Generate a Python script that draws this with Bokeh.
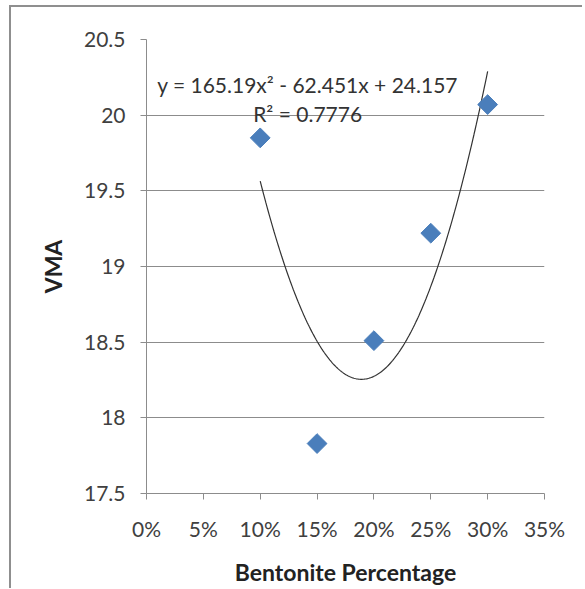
from bokeh.plotting import figure
from bokeh.layouts import column
from bokeh.models import Range1d, FixedTicker, NumeralTickFormatter, Label
from bokeh.embed import file_html
from bokeh.resources import INLINE
import numpy as np
import math

# data
bentonite = [0.10, 0.15, 0.20, 0.25, 0.30]
vma = [19.85, 17.83, 18.51, 19.22, 20.07]
trend_coeffs = [165.19, -62.451, 24.157]
x_ticks = [0, 0.05, 0.10, 0.15, 0.20, 0.25, 0.30, 0.35]
y_ticks = [17.5, 18, 18.5, 19, 19.5, 20, 20.5]
y_tick_labels = ["17.5", "18", "18.5", "19", "19.5", "20", "20.5"]
eq_text = "y = 165.19x\u00b2 - 62.451x + 24.157"
r2_text = "R\u00b2 = 0.7776"
x_title = "Bentonite Percentage"
y_title = "VMA"

FONT = "Lato"
GREY = "#8c8c8c"
TXT = "#404040"

p = figure(frame_width=398, frame_height=454, output_backend="svg", toolbar_location=None,
           x_range=Range1d(0, 0.35), y_range=Range1d(17.5, 20.5),
           min_border_left=0, min_border_right=38, min_border_top=32, min_border_bottom=0)
p.margin = (0, 0, 0, 25)
p.outline_line_color = None
p.background_fill_color = "white"
p.border_fill_color = "white"

p.xaxis.ticker = FixedTicker(ticks=x_ticks)
p.xaxis.formatter = NumeralTickFormatter(format="0%")
p.yaxis.ticker = FixedTicker(ticks=y_ticks)
p.yaxis.major_label_overrides = {t: l for t, l in zip(y_ticks, y_tick_labels)}

for ax in (p.xaxis, p.yaxis):
    ax.axis_line_color = GREY
    ax.major_tick_line_color = GREY
    ax.major_tick_out = 6
    ax.major_tick_in = 0
    ax.minor_tick_line_color = None
    ax.major_label_text_font = FONT
    ax.major_label_text_font_size = "21px"
    ax.major_label_text_color = TXT
    ax.axis_label_text_font = FONT
    ax.axis_label_text_font_style = "bold"
    ax.axis_label_text_font_size = "23px"
    ax.axis_label_text_color = "#222222"

p.xaxis.axis_label = x_title
p.yaxis.axis_label = y_title
p.xaxis.major_label_standoff = 16
p.yaxis.major_label_standoff = 15
p.xaxis.axis_label_standoff = 14
p.yaxis.axis_label_standoff = 14

p.xgrid.grid_line_color = None
p.ygrid.grid_line_color = GREY
p.ygrid.grid_line_width = 1

xs = np.linspace(min(bentonite), max(bentonite), 200)
ys = np.polyval(trend_coeffs, xs)
p.line(xs, ys, line_color="#333333", line_width=1.2)

p.scatter(bentonite, vma, marker="square", size=14, angle=math.pi / 4,
          fill_color="#4a7ebb", line_color="#4a7ebb")

p.add_layout(Label(x=0.1417, y=20.2, text=eq_text, text_align="center", text_baseline="middle",
                   text_font=FONT, text_font_size="21px", text_color="#333333"))
p.add_layout(Label(x=0.1417, y=20.01, text=r2_text, text_align="center", text_baseline="middle",
                   text_font=FONT, text_font_size="21px", text_color="#333333"))

layout = column(p, styles={"border-left": "2px solid #8f8f8f", "border-top": "2px solid #8f8f8f",
                           "margin-left": "9px", "margin-top": "5px"})

open("out.html", "w").write(file_html(layout, INLINE))
